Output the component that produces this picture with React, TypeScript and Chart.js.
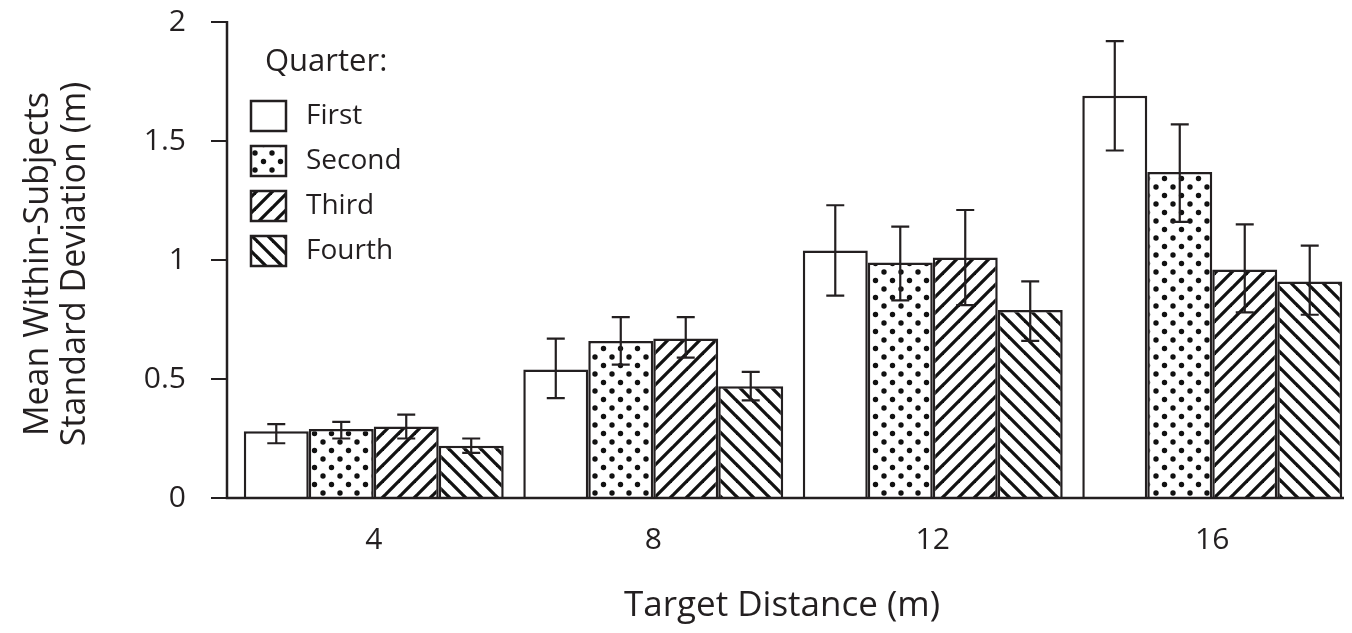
import React, { useEffect, useRef } from "react";
import { Chart, registerables } from "chart.js";

Chart.register(...registerables);

const categories = ["4", "8", "12", "16"];
const seriesNames = ["First", "Second", "Third", "Fourth"];
const firstValues = [0.28, 0.54, 1.04, 1.69];
const secondValues = [0.29, 0.66, 0.99, 1.37];
const thirdValues = [0.30, 0.67, 1.01, 0.96];
const fourthValues = [0.22, 0.47, 0.79, 0.91];
const firstLow = [0.23, 0.42, 0.85, 1.46];
const firstHigh = [0.31, 0.67, 1.23, 1.92];
const secondLow = [0.25, 0.56, 0.83, 1.16];
const secondHigh = [0.32, 0.76, 1.14, 1.57];
const thirdLow = [0.25, 0.59, 0.81, 0.78];
const thirdHigh = [0.35, 0.76, 1.21, 1.15];
const fourthLow = [0.19, 0.41, 0.66, 0.77];
const fourthHigh = [0.25, 0.53, 0.91, 1.06];
const yTicks = [0, 0.5, 1, 1.5, 2];
const xTitle = "Target Distance (m)";
const yTitle = ["Mean Within-Subjects", "Standard Deviation (m)"];
const legendTitle = "Quarter:";

const FONT = "'Open Sans', 'Noto Sans', sans-serif";
const INK = "#231f20";

function makePattern(kind: string): CanvasPattern | string {
  if (kind === "none") return "#ffffff";
  const c = document.createElement("canvas");
  const s = kind === "dots" ? 17 : 16;
  c.width = s;
  c.height = s;
  const g = c.getContext("2d")!;
  g.fillStyle = "#ffffff";
  g.fillRect(0, 0, s, s);
  g.fillStyle = "#111";
  g.strokeStyle = "#111";
  if (kind === "dots") {
    const r = 2.7;
    const pts = [[0, 0], [s, 0], [0, s], [s, s], [s / 2, s / 2]];
    for (const [x, y] of pts) {
      g.beginPath();
      g.arc(x, y, r, 0, Math.PI * 2);
      g.fill();
    }
  } else {
    g.lineWidth = 3.3;
    const segs = kind === "fwd"
      ? [[-s, s, s, -s], [0, s, s, 0], [0, 2 * s, 2 * s, 0]]
      : [[-s, 0, s, 2 * s], [0, 0, s, s], [0, -s, 2 * s, s]];
    for (const [x1, y1, x2, y2] of segs) {
      g.beginPath();
      g.moveTo(x1, y1);
      g.lineTo(x2, y2);
      g.stroke();
    }
  }
  return g.createPattern(c, "repeat")!;
}

export default function App() {
  const ref = useRef<HTMLCanvasElement>(null);
  useEffect(() => {
    document.body.style.margin = "0";
    const fills = [makePattern("none"), makePattern("dots"), makePattern("fwd"), makePattern("back")];
    const values = [firstValues, secondValues, thirdValues, fourthValues];
    const lows = [firstLow, secondLow, thirdLow, fourthLow];
    const highs = [firstHigh, secondHigh, thirdHigh, fourthHigh];
    const AXIS_X = 227;
    const AXIS_RIGHT = 1344;

    const axesPlugin = {
      id: "axesLines",
      afterDatasetsDraw(chart: any) {
        const ctx = chart.ctx;
        const ys = chart.scales.y;
        const area = chart.chartArea;
        ctx.save();
        ctx.strokeStyle = INK;
        ctx.lineWidth = 2.5;
        ctx.beginPath();
        ctx.moveTo(AXIS_X, ys.getPixelForValue(2) - 1);
        ctx.lineTo(AXIS_X, area.bottom);
        ctx.lineTo(AXIS_RIGHT, area.bottom);
        ctx.stroke();
        ctx.lineWidth = 2;
        yTicks.forEach((v) => {
          const y = Math.round(ys.getPixelForValue(v));
          ctx.beginPath();
          ctx.moveTo(AXIS_X - 16, y);
          ctx.lineTo(AXIS_X, y);
          ctx.stroke();
        });
        ctx.restore();
      },
    };

    const errorBars = {
      id: "errorBars",
      afterDatasetsDraw(chart: any) {
        const ctx = chart.ctx;
        const ys = chart.scales.y;
        ctx.save();
        ctx.strokeStyle = INK;
        ctx.lineWidth = 2.2;
        chart.data.datasets.forEach((ds: any, di: number) => {
          const meta = chart.getDatasetMeta(di);
          meta.data.forEach((el: any, i: number) => {
            const x = el.x;
            const yl = ys.getPixelForValue(lows[di][i]);
            const yh = ys.getPixelForValue(highs[di][i]);
            const cap = 9;
            ctx.beginPath();
            ctx.moveTo(x, yl);
            ctx.lineTo(x, yh);
            ctx.moveTo(x - cap, yl);
            ctx.lineTo(x + cap, yl);
            ctx.moveTo(x - cap, yh);
            ctx.lineTo(x + cap, yh);
            ctx.stroke();
          });
        });
        ctx.restore();
      },
    };

    const annotations = {
      id: "annotations",
      afterDraw(chart: any) {
        const ctx = chart.ctx;
        const area = chart.chartArea;
        ctx.save();
        ctx.fillStyle = INK;
        ctx.font = `35px ${FONT}`;
        ctx.textAlign = "center";
        ctx.textBaseline = "middle";
        ctx.fillText(xTitle, 782, 606);
        const cy = (area.top + area.bottom) / 2 + 4;
        ctx.save();
        ctx.translate(0, cy);
        ctx.rotate(-Math.PI / 2);
        ctx.font = `34px ${FONT}`;
        ctx.fillText(yTitle[0], 0, 38);
        ctx.fillText(yTitle[1], 0, 75);
        ctx.restore();
        ctx.textAlign = "left";
        ctx.font = `31px ${FONT}`;
        ctx.fillText(legendTitle, 265, 62);
        ctx.font = `28px ${FONT}`;
        seriesNames.forEach((name, i) => {
          const top = 101 + i * 45;
          ctx.fillStyle = fills[i] as any;
          ctx.fillRect(251, top, 35, 30);
          ctx.strokeStyle = INK;
          ctx.lineWidth = 2.5;
          ctx.strokeRect(251, top, 35, 30);
          ctx.fillStyle = INK;
          ctx.fillText(name, 306, top + 15);
        });
        ctx.restore();
      },
    };

    const chart = new Chart(ref.current!, {
      type: "bar",
      data: {
        labels: categories,
        datasets: seriesNames.map((n, i) => ({
          label: n,
          data: values[i],
          backgroundColor: fills[i] as any,
          borderColor: INK,
          borderWidth: 2.5,
          borderSkipped: "bottom",
          categoryPercentage: 0.93,
          barPercentage: 1,
        })),
      },
      options: {
        animation: false,
        responsive: false,
        devicePixelRatio: 1,
        layout: { padding: { top: 22, right: 0, left: 0, bottom: 0 } },
        plugins: { legend: { display: false }, tooltip: { enabled: false } },
        scales: {
          x: {
            grid: { display: false, drawTicks: false },
            border: { display: false },
            ticks: { color: INK, font: { family: FONT, size: 30 }, padding: 24 },
            afterFit(scale: any) {
              scale.height = 135;
              scale.paddingLeft = 0;
              scale.paddingRight = 0;
            },
          },
          y: {
            min: 0,
            max: 2,
            afterBuildTicks(scale: any) {
              scale.ticks = yTicks.map((v) => ({ value: v }));
            },
            grid: { display: false, drawTicks: false },
            border: { display: false },
            ticks: {
              color: INK,
              font: { family: FONT, size: 30 },
              padding: 48,
              callback: (v: any) => String(v),
            },
            afterFit(scale: any) {
              scale.width = 234;
              scale.paddingTop = 0;
              scale.paddingBottom = 0;
            },
          },
        },
      },
      plugins: [axesPlugin, errorBars, annotations],
    });
    return () => chart.destroy();
  }, []);
  return (
    <div style={{ width: 1352, height: 633 }}>
      <canvas ref={ref} width={1352} height={633} style={{ display: "block" }} />
    </div>
  );
}
